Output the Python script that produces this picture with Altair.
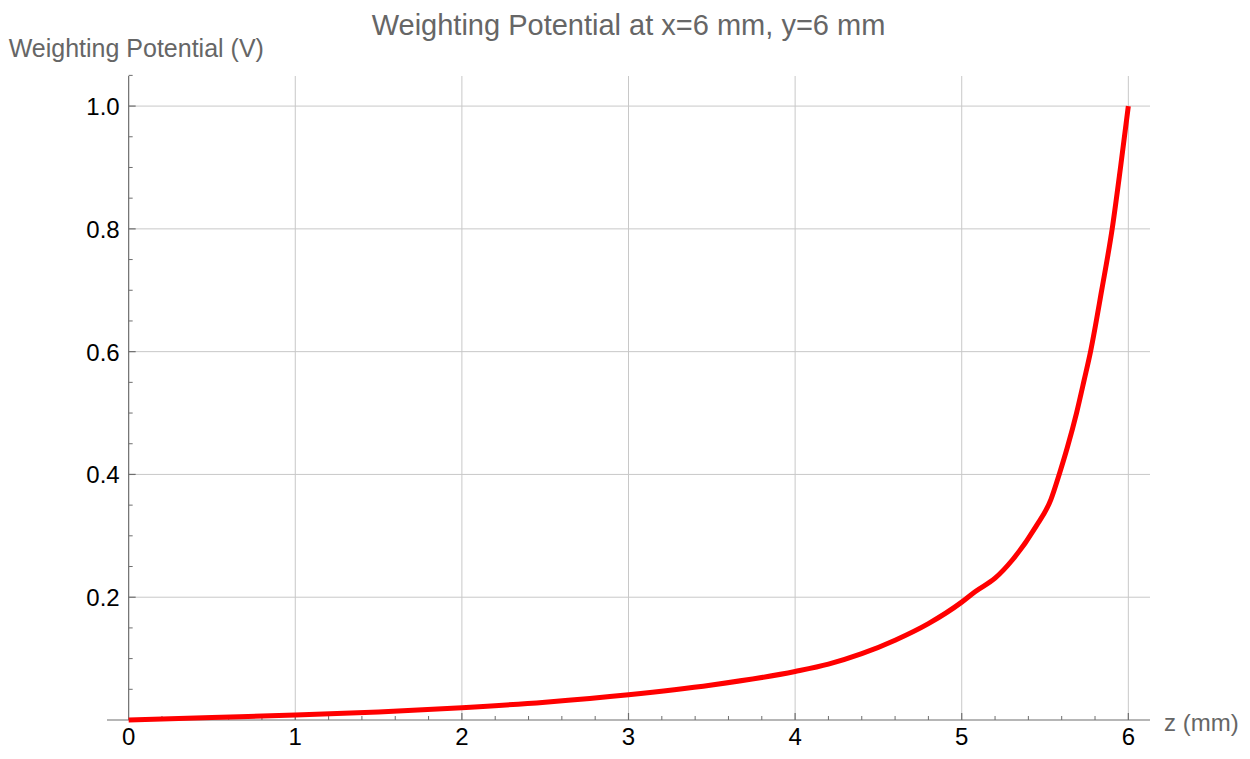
import altair as alt
import pandas as pd

# ---- data ----
z_vals = [0, 0.5, 1, 1.5, 2, 2.5, 3, 3.5, 4, 4.2, 4.4, 4.6, 4.8, 5.0, 5.08, 5.2,
          5.305, 5.445, 5.535, 5.585, 5.635, 5.689, 5.735, 5.773, 5.84, 5.903, 5.953, 6.0]
v_vals = [0, 0.004, 0.008, 0.013, 0.020, 0.029, 0.041, 0.057, 0.079, 0.091, 0.108,
          0.130, 0.157, 0.192, 0.209, 0.231, 0.261, 0.315, 0.359, 0.400, 0.445, 0.500,
          0.554, 0.600, 0.700, 0.800, 0.900, 1.0]

x_major = [1, 2, 3, 4, 5, 6]
x_minor = [0.2, 0.4, 0.6, 0.8, 1.2, 1.4, 1.6, 1.8, 2.2, 2.4, 2.6, 2.8, 3.2, 3.4, 3.6,
           3.8, 4.2, 4.4, 4.6, 4.8, 5.2, 5.4, 5.6, 5.8]
x_labels = [0, 1, 2, 3, 4, 5, 6]
y_major = [0.2, 0.4, 0.6, 0.8, 1.0]
y_minor = [0.05, 0.1, 0.15, 0.25, 0.3, 0.35, 0.45, 0.5, 0.55, 0.65, 0.7, 0.75,
           0.85, 0.9, 0.95, 1.05]
y_labels = ["0.2", "0.4", "0.6", "0.8", "1.0"]

X_MIN, X_MAX = -0.13, 6.13
Y_MIN, Y_MAX = 0.0, 1.049

TITLE = "Weighting Potential at x=6 mm, y=6 mm"
X_TITLE = "z (mm)"
Y_TITLE = "Weighting Potential (V)"

FONT = "Liberation Sans"
GRID = "#c8c8c8"
AXIS = "#6e6e6e"
TXT = "#666666"

curve = pd.DataFrame({"z": z_vals, "v": v_vals})

xs = alt.Scale(domain=[X_MIN, X_MAX], nice=False, zero=False)
ys = alt.Scale(domain=[Y_MIN, Y_MAX], nice=False, zero=False)


def X(f):
    return alt.X(f, type="quantitative", scale=xs, axis=None)


def Y(f):
    return alt.Y(f, type="quantitative", scale=ys, axis=None)


vgrid = alt.Chart(pd.DataFrame({"z": x_major, "a": Y_MIN, "b": Y_MAX})).mark_rule(
    color=GRID, strokeWidth=1).encode(x=X("z"), y=Y("a"), y2="b")
hgrid = alt.Chart(pd.DataFrame({"v": y_major, "a": 0.0, "b": X_MAX})).mark_rule(
    color=GRID, strokeWidth=1).encode(y=Y("v"), x=X("a"), x2="b")

xaxis = alt.Chart(pd.DataFrame({"a": [X_MIN], "b": [X_MAX], "v": [0.0]})).mark_rule(
    color=AXIS, strokeWidth=1.2).encode(x=X("a"), x2="b", y=Y("v"))
yaxis = alt.Chart(pd.DataFrame({"a": [Y_MIN], "b": [Y_MAX], "z": [0.0]})).mark_rule(
    color=AXIS, strokeWidth=1.2).encode(y=Y("a"), y2="b", x=X("z"))

xmaj = alt.Chart(pd.DataFrame({"z": x_major, "v": 0.0, "v2": 0.0})).mark_rule(
    color=AXIS, strokeWidth=1.2, y2Offset=-7).encode(x=X("z"), y=Y("v"), y2="v2")
xmin = alt.Chart(pd.DataFrame({"z": x_minor, "v": 0.0, "v2": 0.0})).mark_rule(
    color=AXIS, strokeWidth=1, y2Offset=-4).encode(x=X("z"), y=Y("v"), y2="v2")
ymaj = alt.Chart(pd.DataFrame({"v": y_major, "z": 0.0, "z2": 0.0})).mark_rule(
    color=AXIS, strokeWidth=1.2, x2Offset=7).encode(y=Y("v"), x=X("z"), x2="z2")
ymin = alt.Chart(pd.DataFrame({"v": y_minor, "z": 0.0, "z2": 0.0})).mark_rule(
    color=AXIS, strokeWidth=1, x2Offset=4).encode(y=Y("v"), x=X("z"), x2="z2")

line = alt.Chart(curve).mark_line(color="#ff0000", strokeWidth=5, interpolate="monotone").encode(
    x=X("z"), y=Y("v"))

xlab = alt.Chart(pd.DataFrame({"z": x_labels, "v": 0.0, "t": [str(x) for x in x_labels]})).mark_text(
    font=FONT, fontSize=24, color="black", align="center", baseline="alphabetic", dy=25).encode(
    x=X("z"), y=Y("v"), text="t:N")
ylab = alt.Chart(pd.DataFrame({"v": y_major, "z": 0.0, "t": y_labels})).mark_text(
    font=FONT, fontSize=24, color="black", align="right", baseline="middle", dx=-9, dy=2).encode(
    x=X("z"), y=Y("v"), text="t:N")

xtitle = alt.Chart(pd.DataFrame({"z": [X_MAX], "v": [0.0], "t": [X_TITLE]})).mark_text(
    font=FONT, fontSize=24, color=TXT, align="left", baseline="alphabetic", dx=14, dy=11).encode(
    x=X("z"), y=Y("v"), text="t:N")
ytitle = alt.Chart(pd.DataFrame({"z": [0.0], "v": [Y_MAX], "t": [Y_TITLE]})).mark_text(
    font=FONT, fontSize=25, color=TXT, align="left", baseline="alphabetic", dx=-120, dy=-19).encode(
    x=X("z"), y=Y("v"), text="t:N")
title = alt.Chart(pd.DataFrame({"z": [(X_MIN + X_MAX) / 2], "v": [Y_MAX], "t": [TITLE]})).mark_text(
    font=FONT, fontSize=29, color=TXT, align="center", baseline="alphabetic", dy=-41).encode(
    x=X("z"), y=Y("v"), text="t:N")

chart = alt.layer(vgrid, hgrid, xaxis, yaxis, xmaj, xmin, ymaj, ymin, line,
                  xlab, ylab, xtitle, ytitle, title).properties(
    width=1043, height=644,
    autosize=alt.AutoSizeParams(type="none"),
    padding={"left": 99, "top": 68, "right": 90, "bottom": 31},
).configure_view(stroke=None)

chart.save("out.html", embed_options={"renderer": "svg", "actions": False})
